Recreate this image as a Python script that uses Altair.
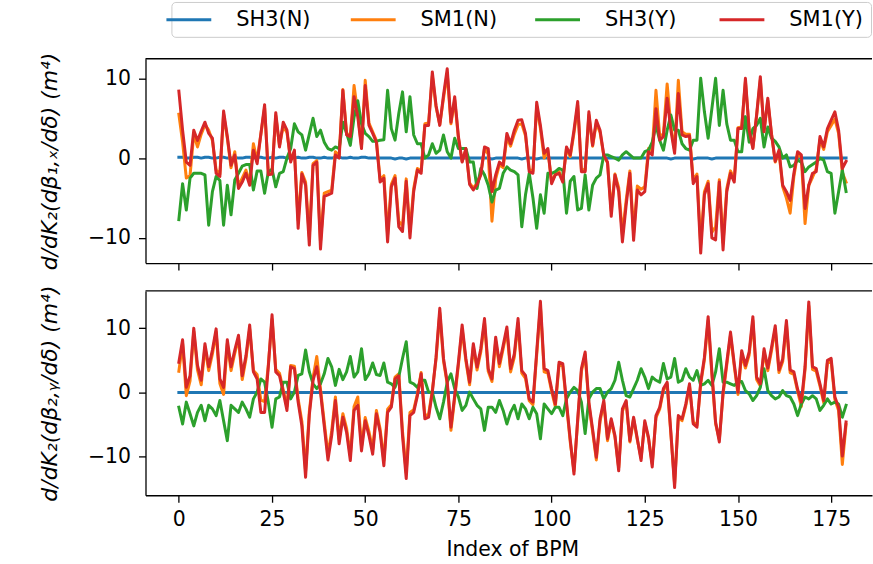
import altair as alt
import pandas as pd

# Series names and their line colours (matplotlib tab10 order)
SERIES = ["SH3(N)", "SM1(N)", "SH3(Y)", "SM1(Y)"]
COLORS = ["#1f77b4", "#ff7f0e", "#2ca02c", "#d62728"]

# x tick labels (BPM index)
X_TICKS = [0, 25, 50, 75, 100, 125, 150, 175]
Y_TICKS = [-10, 0, 10]

# ---- Upper panel: d/dK2 (d beta_1,x / d delta) -------------------------------
bx_sh3_n = [
    0.1, 0.1, 0.0, 0.0, 0.1, 0.1, 0.0, 0.1, 0.1, 0.0, 0.0, 0.1, 0.1, 0.0, 0.0, 0.1, 0.0, 0.0, 0.1, 0.1,
    0.0, 0.1, 0.1, 0.0, 0.0, 0.1, 0.0, 0.1, 0.1, 0.0, 0.0, 0.0, 0.1, 0.0, 0.0, 0.1, 0.1, 0.0, 0.0, 0.1,
    0.0, 0.0, 0.1, 0.1, 0.0, 0.0, 0.1, 0.0, 0.0, 0.1, 0.1, 0.0, 0.0, 0.0, 0.0, 0.0, 0.0, 0.0, -0.1, 0.0,
    0.0, -0.1, 0.0, 0.0, 0.0, 0.0, 0.0, 0.0, 0.0, 0.0, 0.0, 0.0, 0.0, 0.0, 0.0, 0.0, 0.0, 0.0, 0.0, 0.0,
    0.0, 0.0, 0.0, 0.0, -0.1, 0.0, 0.0, 0.0, 0.0, 0.0, 0.0, 0.0, -0.1, 0.0, 0.0, 0.0, -0.1, 0.0, 0.0, 0.0,
    0.0, 0.0, 0.0, 0.0, 0.0, 0.0, 0.0, 0.0, 0.0, 0.0, 0.0, 0.0, 0.0, 0.0, 0.0, 0.0, 0.0, 0.0, 0.0, 0.0,
    0.0, 0.0, 0.0, 0.0, 0.0, 0.0, 0.0, 0.0, 0.0, 0.0, 0.0, 0.0, -0.1, 0.0, 0.0, 0.0, 0.0, 0.0, -0.1, 0.0,
    0.0, 0.0, 0.0, -0.1, 0.0, 0.0, 0.0, 0.0, 0.0, 0.0, 0.0, 0.0, 0.0, 0.0, 0.0, 0.0, 0.0, 0.0, 0.0, 0.0,
    0.0, 0.0, 0.0, 0.0, 0.0, 0.0, 0.0, 0.0, 0.0, 0.0, 0.0, 0.0, 0.0, 0.0, 0.0, 0.0, 0.0, 0.0, 0.0, 0.0,
]
bx_sm1_n = [
    5.5, 2.0, -2.5, -2.2, 3.0, 1.4, 3.0, 4.2, 3.5, 2.2, -1.5, -2.0, 5.5, 2.5, -1.2, 0.8, -3.5, -2.5, -1.5, -3.0,
    1.8, -0.3, 3.0, 6.3, -1.8, -1.6, 5.3, 1.6, 4.0, 3.2, -0.2, 0.8, -7.8, -1.8, -3.0, -9.8, -0.7, -0.3, -10.5, -4.4,
    -4.2, -4.0, 0.8, 0.3, 8.6, 3.2, 2.5, 9.1, 5.6, 1.5, 9.75, 4.4, 3.3, 2.2, -2.7, -2.2, -9.6, -3.3, -2.2, -7.9,
    -8.5, -2.6, -9.2, -3.8, -1.3, -1.6, 4.3, 4.4, 10.3, 6.4, 4.2, 7.5, 10.6, 4.3, 7.3, 2.5, -0.4, 1.1, -3.1, -3.8,
    -3.1, -2.0, 1.2, 0.5, -7.9, -2.6, -0.8, -1.2, 2.6, 1.5, 3.0, 4.2, 4.3, 2.8, -1.4, -1.6, 6.5, 3.7, 0.0, 1.0,
    -3.0, -2.0, -1.7, -2.7, 1.2, 0.2, 3.1, 6.6, -1.4, -1.5, 5.4, 1.5, 4.4, 3.2, 0.3, -0.6, -6.6, -2.0, -3.7, -9.6,
    -5.3, -1.6, -9.4, -3.5, -3.9, -3.6, 1.2, 0.9, 8.5, 2.8, 3.0, 9.3, 4.0, 1.0, 9.75, 3.3, 3.0, 3.0, -2.8, -2.0,
    -10.8, -4.2, -2.9, -9.3, -8.6, -2.7, -10.6, -3.8, -1.6, -2.6, 3.8, 3.9, 9.6, 3.6, 1.3, 5.3, 9.8, 3.5, 7.2, 3.0,
    -0.5, 0.8, -3.6, -5.0, -6.9, -2.3, 0.5, 0.1, -8.2, -3.4, -2.4, -1.3, 2.3, 1.1, 3.3, 4.1, 4.9, 3.1, -1.8, -3.0,
]
bx_sh3_y = [
    -7.7, -3.2, -6.5, -2.5, -1.9, -1.9, -1.9, -2.1, -8.4, -4.2, -2.3, -2.8, -8.4, -3.4, -7.1, -2.75, -1.9, -1.0, -0.8, -0.8,
    -4.0, -1.6, -1.6, -4.4, -1.7, -1.4, -3.6, -1.9, -1.7, 0.0, 1.2, 4.3, 3.3, 2.9, 1.0, 3.0, 5.0, 2.7, 3.5, 2.0,
    1.2, 1.0, 1.4, 1.2, 4.5, 3.1, 1.6, 5.1, 7.2, 4.3, 3.1, 2.7, 2.1, 2.1, 2.25, 2.3, 8.5, 3.7, 2.25, 5.6,
    8.3, 3.3, 7.7, 2.9, 1.8, 1.8, 0.0, 0.4, 1.8, 0.6, 1.0, 2.9, 0.8, 0.0, 2.5, 1.2, 1.2, 1.2, -0.5, -0.5,
    -3.8, -1.3, -2.1, -3.4, -5.5, -4.0, -3.8, -1.9, -1.1, -1.5, -1.7, -2.1, -8.6, -4.6, -1.9, -5.0, -8.8, -4.6, -6.9, -1.9,
    -1.9, -1.7, -1.3, -1.5, -6.9, -2.9, -2.3, -6.5, -6.3, -2.1, -6.5, -3.4, -2.5, -2.1, 0.4, 0.4, 0.2, 0.0, -0.25, 0.4,
    0.8, 0.4, 0.0, 0.0, 0.0, 0.8, 1.0, 2.0, 4.1, 2.25, 1.0, 3.5, 5.4, 3.5, 3.5, 1.8, 1.2, 1.0, 2.25, 2.25,
    10.0, 5.8, 2.5, 6.2, 10.0, 4.1, 8.5, 4.3, 2.25, 2.25, 0.8, 0.8, 5.2, 2.0, 3.7, 4.1, 5.0, 1.4, 3.9, 2.5,
    2.1, 1.4, 0.0, 0.4, -1.1, -0.9, -0.25, -0.5, -1.7, -1.1, -0.8, -0.5, 0.0, -0.25, -1.7, -1.9, -6.9, -4.2, -1.5, -4.2,
]
bx_sm1_y = [
    8.4, 3.5, -0.5, -0.9, 3.5, 2.2, 3.4, 4.5, 3.1, 2.5, -1.9, -2.3, 5.9, 2.7, -0.9, 0.4, -3.8, -3.0, -1.9, -3.4,
    1.0, -0.7, 3.0, 6.7, -2.1, -2.0, 5.7, 1.4, 4.5, 3.5, -0.5, 1.0, -8.8, -2.0, -3.4, -10.9, -0.9, -0.5, -11.4, -4.8,
    -4.6, -4.4, 0.4, 0.0, 8.5, 2.9, 2.7, 7.7, 5.2, 1.2, 9.1, 4.1, 3.1, 2.0, -3.0, -2.5, -10.5, -3.6, -2.5, -8.6,
    -9.2, -2.9, -10.0, -4.2, -1.5, -1.9, 4.1, 4.1, 10.8, 6.6, 4.1, 7.9, 11.2, 4.5, 7.7, 2.7, -0.5, 1.2, -3.3, -4.0,
    -3.3, -2.1, 1.4, 1.2, -4.2, -2.1, -0.5, -0.9, 3.1, 1.8, 3.5, 4.75, 4.8, 3.1, -1.7, -1.9, 7.0, 4.1, 0.6, 1.2,
    -3.2, -2.1, -1.9, -3.0, 1.4, 0.4, 3.5, 7.1, -1.7, -1.7, 5.8, 1.6, 4.75, 3.5, 0.4, -0.5, -7.3, -2.1, -4.2, -10.5,
    -5.9, -1.9, -10.3, -4.0, -4.6, -4.2, 0.8, 0.4, 6.2, 2.25, 2.7, 7.5, 3.5, 0.6, 8.1, 2.9, 2.7, 2.8, -3.2, -2.3,
    -11.9, -4.6, -3.2, -10.0, -10.25, -3.0, -11.5, -4.2, -1.9, -3.0, 3.7, 3.7, 10.0, 3.5, 1.2, 5.4, 10.2, 3.3, 7.5, 3.0,
    -0.4, 1.0, -3.4, -4.2, -5.3, -1.9, 0.8, 0.4, -6.3, -3.4, -1.9, -1.7, 2.7, 1.4, 3.7, 4.75, 5.8, 3.5, -1.3, -0.4,
]

# ---- Lower panel: d/dK2 (d beta_2,y / d delta) -------------------------------
by_sh3_n = [
    0.0, 0.0, 0.0, 0.0, 0.0, 0.0, 0.0, 0.0, 0.0, 0.0, 0.0, 0.0, 0.0, 0.0, 0.0, 0.0, 0.0, 0.0, 0.0, 0.0,
    0.0, 0.0, 0.0, 0.0, 0.0, 0.0, 0.0, 0.0, 0.0, 0.0, 0.0, 0.0, 0.0, 0.0, 0.0, 0.0, 0.0, 0.0, 0.0, 0.0,
    0.0, 0.0, 0.0, 0.0, 0.0, 0.0, 0.0, 0.0, 0.0, 0.0, 0.0, 0.0, 0.0, 0.0, 0.0, 0.0, 0.0, 0.0, 0.0, 0.0,
    0.0, 0.0, 0.0, 0.0, 0.0, 0.0, 0.0, 0.0, 0.0, 0.0, 0.0, 0.0, 0.0, 0.0, 0.0, 0.0, 0.0, 0.0, 0.0, 0.0,
    0.0, 0.0, 0.0, 0.0, 0.0, 0.0, 0.0, 0.0, 0.0, 0.0, 0.0, 0.0, 0.0, 0.0, 0.0, 0.0, 0.0, 0.0, 0.0, 0.0,
    0.0, 0.0, 0.0, 0.0, 0.0, 0.0, 0.0, 0.0, 0.0, 0.0, 0.0, 0.0, 0.0, 0.0, 0.0, 0.0, 0.0, 0.0, 0.0, 0.0,
    0.0, 0.0, 0.0, 0.0, 0.0, 0.0, 0.0, 0.0, 0.0, 0.0, 0.0, 0.0, 0.0, 0.0, 0.0, 0.0, 0.0, 0.0, 0.0, 0.0,
    0.0, 0.0, 0.0, 0.0, 0.0, 0.0, 0.0, 0.0, 0.0, 0.0, 0.0, 0.0, 0.0, 0.0, 0.0, 0.0, 0.0, 0.0, 0.0, 0.0,
    0.0, 0.0, 0.0, 0.0, 0.0, 0.0, 0.0, 0.0, 0.0, 0.0, 0.0, 0.0, 0.0, 0.0, 0.0, 0.0, 0.0, 0.0, 0.0, 0.0,
]
by_sm1_n = [
    3.3, 7.6, -0.5, 1.8, 9.5, 3.5, 1.2, 7.0, 3.4, 6.0, 9.4, 1.4, -0.3, 7.6, 3.4, 6.1, 8.4, 2.0, 5.2, 9.9,
    3.4, 2.8, -1.2, -1.4, 4.3, 11.4, 3.6, 3.0, 0.4, -2.2, 4.2, 4.1, -1.0, -4.5, -12.2, -3.0, 2.3, 5.6, 0.5, -4.6,
    -9.7, -6.0, -0.7, -7.3, -3.3, -5.6, -9.8, -2.2, -0.7, -8.4, -3.9, -6.1, -8.9, -2.8, -5.7, -10.6, -2.6, -1.9, 2.4, 2.9,
    -6.0, -12.5, -3.1, -2.7, -0.2, 3.1, -3.6, -3.4, 0.3, 5.2, 12.4, 4.9, 1.3, -5.9, -0.9, 4.3, 9.9, 4.9, 1.2, 7.1,
    3.5, 6.3, 10.9, 3.3, 1.7, 8.0, 4.0, 6.8, 9.6, 3.2, 5.5, 10.8, 3.0, 2.2, -1.3, -1.9, 5.8, 13.4, 3.2, 3.0,
    0.2, -2.2, 4.3, 4.1, -1.9, -7.7, -12.2, -4.5, 3.3, 5.9, -1.9, -6.1, -10.5, -4.5, -1.6, -7.5, -4.4, -7.0, -11.7, -2.9,
    -1.5, -7.7, -4.1, -7.4, -10.2, -4.7, -7.2, -11.1, -3.9, -2.6, 0.3, 1.3, -6.5, -14.2, -3.9, -4.4, -2.1, 1.0, -4.6, -5.1,
    1.3, 5.1, 11.2, 2.8, -4.9, -7.3, -0.3, 4.3, 8.9, 4.1, -0.3, 6.0, 3.8, 5.8, 11.2, 2.0, 1.0, 6.3, 3.4, 6.5,
    9.9, 3.1, 4.8, 10.6, 3.1, 2.8, 0.2, -2.2, 3.6, 13.5, 3.6, 3.3, 1.0, -1.6, 4.6, 4.9, -1.1, -2.8, -11.2, -5.0,
]
by_sh3_y = [
    -2.3, -4.9, -1.5, -3.3, -5.2, -3.1, -2.0, -4.4, -2.0, -2.55, -3.6, -1.25, -4.4, -7.5, -2.0, -2.55, -3.1, -1.5, -2.55, -3.85,
    -1.0, 0.05, 2.1, 1.6, -1.5, -5.4, -1.0, -0.7, 1.6, 1.6, -1.0, 0.05, 2.65, 2.9, 6.6, 3.2, 1.35, 0.6, 1.35, 2.9,
    5.3, 4.0, 1.1, 3.6, 2.0, 3.2, 5.6, 2.4, 3.2, 6.8, 2.0, 2.9, 4.6, 2.8, 2.65, 4.6, 1.6, 1.35, 0.8, 2.4,
    5.3, 7.9, 1.6, 1.35, 0.8, 1.9, 1.9, 0.05, 0.05, -2.3, -4.1, -1.5, 1.6, 2.9, 0.6, -0.7, -2.8, -2.0, 0.05, -1.0,
    -2.0, -2.55, -5.9, -2.3, -2.3, -3.1, -1.25, -2.8, -4.9, -3.1, -2.0, -4.1, -1.8, -2.55, -4.1, -2.3, -3.3, -7.2, -1.8, -2.55,
    -3.3, -2.3, -2.3, -3.6, -1.0, 0.05, 0.8, 0.3, -1.5, -6.4, -1.0, 0.05, 0.6, 0.6, -1.0, 0.05, 0.6, 1.9, 4.7, 1.9,
    -0.5, -0.7, 0.6, 1.9, 3.7, 2.4, 0.6, 2.4, 1.9, 1.6, 4.5, 2.1, 2.4, 5.3, 1.6, 1.9, 3.7, 2.4, 1.9, 3.4,
    1.1, 1.35, 1.9, 1.1, 3.2, 6.8, 1.6, 1.6, 1.35, 1.1, 1.6, 1.7, 0.3, -0.2, -1.25, -0.5, 0.8, 3.7, 0.3, -0.5,
    -1.0, -0.7, 0.3, -0.5, -0.7, -1.8, -3.6, -1.8, -0.7, -1.0, -0.5, -1.0, -2.8, -2.0, -1.0, -1.8, -1.5, -1.8, -3.85, -2.0,
]
by_sm1_y = [
    4.7, 8.2, 0.8, 2.6, 10.0, 4.2, 1.9, 7.6, 4.0, 6.6, 9.9, 2.1, 0.8, 8.2, 4.0, 6.6, 8.9, 2.6, 5.7, 10.5,
    3.2, 2.1, -3.1, -3.1, 4.0, 12.1, 3.2, 2.6, 0.05, -2.8, 4.0, 3.7, -1.5, -5.2, -13.2, -3.5, 1.9, 4.0, 0.05, -5.2,
    -10.5, -6.7, -1.25, -8.0, -3.85, -6.2, -10.6, -2.8, -2.0, -9.1, -4.4, -6.7, -9.6, -3.3, -6.2, -11.4, -3.1, -2.3, 2.1, 2.6,
    -6.7, -13.4, -3.6, -3.1, -0.5, 2.9, -4.1, -3.85, 0.05, 5.5, 13.1, 5.3, 1.6, -5.4, -0.5, 4.7, 10.5, 5.3, 1.6, 7.6,
    3.95, 6.8, 11.5, 3.7, 2.1, 8.6, 4.5, 7.3, 10.2, 3.7, 6.0, 11.5, 3.4, 2.65, -1.0, -1.5, 6.3, 14.2, 3.7, 3.4,
    0.6, -1.8, 4.7, 4.5, -1.5, -7.3, -12.7, -4.2, 3.7, 6.3, -1.5, -5.7, -10.1, -4.1, -1.25, -7.2, -4.1, -6.7, -12.2, -2.55,
    -1.25, -7.5, -3.85, -7.2, -10.6, -4.4, -7.0, -11.6, -3.6, -2.3, 0.6, 1.6, -6.2, -14.8, -3.6, -4.1, -1.8, 1.35, -4.9, -5.4,
    1.6, 5.5, 11.8, 3.2, -4.6, -7.7, 0.05, 4.7, 9.4, 4.5, 0.05, 6.5, 4.2, 6.3, 11.8, 2.4, 1.35, 6.8, 3.8, 7.0,
    10.4, 3.5, 5.2, 11.2, 3.5, 3.2, 0.5, -1.5, 4.0, 14.1, 4.0, 3.7, 1.35, -1.25, 5.0, 5.3, -0.7, -2.3, -9.9, -4.6,
]

# ---- Layout constants ---------------------------------------------------------
PLOT_W = 729
PLOT_H = 205
X_DOMAIN = [-8.95, 185.96]
FONT = "DejaVu Sans"
FS = 20.5


def long_frame(columns):
    rows = []
    for name, vals in zip(SERIES, columns):
        for i, v in enumerate(vals):
            rows.append({"bpm": i, "value": v, "series": name})
    return pd.DataFrame(rows)


color_enc = alt.Color(
    "series:N",
    scale=alt.Scale(domain=SERIES, range=COLORS),
    legend=alt.Legend(
        orient="none",
        legendX=26,
        legendY=-57,
        direction="horizontal",
        columns=4,
        title=None,
        symbolType="M-3,0H3",
        symbolSize=225,
        symbolStrokeWidth=3,
        symbolFillColor="transparent",
        labelFont=FONT,
        labelFontSize=21,
        labelColor="black",
        labelOffset=37,
        labelLimit=200,
        columnPadding=32,
        gridAlign="all",
        padding=7,
        strokeColor="#cccccc",
        fillColor="white",
        cornerRadius=4,
    ),
)


def panel(df, y_title, y_domain, bottom):
    x_axis = alt.Axis(
        values=X_TICKS,
        labels=bottom,
        labelPadding=7,
        labelFlush=False,
        labelOverlap=False,
        title="Index of BPM" if bottom else None,
        titleFont=FONT,
        titleFontSize=FS,
        titleFontWeight="normal",
        titleColor="black",
        titleX=368,
        titleY=54,
        titleAlign="center",
        titleBaseline="middle",
    )
    y_axis = alt.Axis(
        values=Y_TICKS,
        labelPadding=8,
        title=y_title,
        titleAngle=270,
        titleX=-96,
        titleY=PLOT_H / 2,
        titleAlign="center",
        titleBaseline="middle",
        titleFont=FONT,
        titleFontSize=22,
        titleFontStyle="italic",
        titleFontWeight="normal",
        titleColor="black",
    )
    x = alt.X("bpm:Q", scale=alt.Scale(domain=X_DOMAIN, nice=False, zero=False), axis=x_axis)
    y = alt.Y("value:Q", scale=alt.Scale(domain=y_domain, nice=False, zero=False), axis=y_axis)

    layers = []
    for s in SERIES:
        layers.append(
            alt.Chart(df)
            .transform_filter(alt.datum.series == s)
            .mark_line(strokeWidth=3, strokeJoin="round", strokeCap="square")
            .encode(x=x, y=y, color=color_enc, order="bpm:Q")
        )
    # top edge of the axes box
    top_edge = (
        alt.Chart(pd.DataFrame({"k": [0]}))
        .mark_rule(color="black", strokeWidth=1.3)
        .encode(x=alt.value(0), x2=alt.value(PLOT_W), y=alt.value(0))
    )
    return alt.layer(*layers, top_edge).properties(width=PLOT_W, height=PLOT_H)


top = panel(
    long_frame([bx_sh3_n, bx_sm1_n, bx_sh3_y, bx_sm1_y]),
    "d/dK₂(dβ₁,ₓ/dδ) (m⁴)",
    [-13.15, 12.45],
    bottom=False,
)
bottom = panel(
    long_frame([by_sh3_n, by_sm1_n, by_sh3_y, by_sm1_y]),
    "d/dK₂(dβ₂,ᵧ/dδ) (m⁴)",
    [-16.0, 15.8],
    bottom=True,
)

chart = (
    alt.vconcat(top, bottom, spacing=28, bounds="flush")
    .properties(
        padding={"left": 39, "top": 0, "right": 0, "bottom": 0},
        background="white",
    )
    .configure_view(stroke=None)
    .configure_axis(
        domainColor="black",
        domainWidth=1.3,
        tickColor="black",
        tickWidth=1.3,
        tickSize=7,
        labelFont=FONT,
        labelFontSize=FS,
        labelColor="black",
        grid=False,
    )
)

chart.save("out.html", embed_options={"renderer": "svg", "actions": False})
